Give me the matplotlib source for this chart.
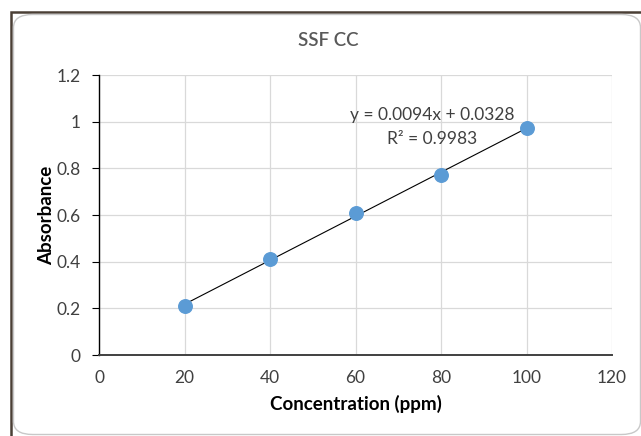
import numpy as np
import matplotlib
matplotlib.use("Agg")
import matplotlib.pyplot as plt
from matplotlib.patches import FancyBboxPatch, Rectangle

# data
conc = [20, 40, 60, 80, 100]
absorb = [0.21, 0.41, 0.61, 0.77, 0.973]
x_ticks = [0, 20, 40, 60, 80, 100, 120]
y_ticks = [0, 0.2, 0.4, 0.6, 0.8, 1.0, 1.2]
y_tick_labels = ["0", "0.2", "0.4", "0.6", "0.8", "1", "1.2"]

plt.rcParams['font.family'] = ['Lato', 'DejaVu Sans']

W, H = 641, 436
fig = plt.figure(figsize=(W / 100, H / 100), dpi=100)


def px(x, y):
    """pixel coords (top-left origin) -> figure fraction"""
    return x / W, 1 - y / H


# page frame and rounded chart box
fig.patches.append(Rectangle(px(10.5, 450), 700 / W, 437.5 / H,
                             transform=fig.transFigure, fill=False,
                             edgecolor='#4a3f35', linewidth=1.8))
fig.patches.append(FancyBboxPatch(px(13.5, 434.5), 627 / W, 420 / H,
                                  boxstyle="round,pad=0,rounding_size=0.03",
                                  transform=fig.transFigure, fill=False,
                                  edgecolor='#c8c8c8', linewidth=1.0))

ax = fig.add_axes([99 / W, 81 / H, 513 / W, 280 / H])

# linear fit (Excel trendline)
slope, intercept = np.polyfit(conc, absorb, 1)
xs = np.array([conc[0], conc[-1]])
ax.plot(xs, slope * xs + intercept, color='black', linewidth=0.8, zorder=3)
ax.scatter(conc, absorb, s=95, color='#5b9bd5', zorder=4)

ax.set_xlim(0, 120)
ax.set_ylim(0, 1.2)
ax.set_xticks(x_ticks)
ax.set_yticks(y_ticks)
ax.set_yticklabels(y_tick_labels)
ax.grid(True, color='#d9d9d9', linewidth=0.9)
ax.set_axisbelow(True)
for s in ['top', 'right']:
    ax.spines[s].set_visible(False)
ax.spines['left'].set_color('black')
ax.spines['left'].set_linewidth(1.0)
ax.spines['bottom'].set_color('#404040')
ax.spines['bottom'].set_linewidth(1.4)
ax.tick_params(axis='x', length=0, pad=11, labelsize=12.5, labelcolor='#404040')
ax.tick_params(axis='y', length=5, direction='out', pad=8, labelsize=12.5,
               labelcolor='#404040')

ax.set_xlabel('Concentration (ppm)', fontsize=13.5, fontweight='bold')
ax.set_ylabel('Absorbance', fontsize=13.5, fontweight='bold')
ax.xaxis.set_label_coords(0.5, (355 - 404) / 280)
ax.yaxis.set_label_coords((47 - 99) / 513, 0.5)
ax.xaxis.label.set_va('center')
ax.yaxis.label.set_va('center')

fig.text(*px(328, 41), 'SSF CC', ha='center', va='center', fontsize=13.5,
         color='#595959', fontweight='semibold')
fig.text(*px(432, 115), 'y = 0.0094x + 0.0328', ha='center', va='center',
         fontsize=12.5, color='#404040')
fig.text(*px(432, 139), 'R² = 0.9983', ha='center', va='center',
         fontsize=12.5, color='#404040')

fig.savefig('out.png', dpi=100)
